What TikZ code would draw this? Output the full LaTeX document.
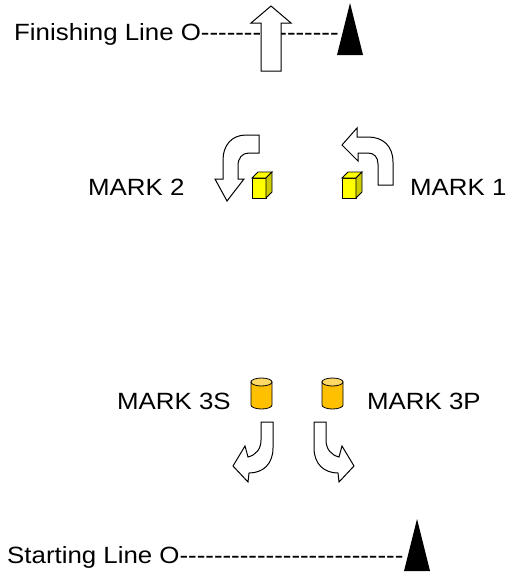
\documentclass[tikz,border=0pt]{standalone}
\usepackage{fontspec}
\setmainfont{Liberation Sans}[FakeStretch=1.1]
\newcommand{\tx}      {\fontsize{23.5}{28}\selectfont}
\newcommand{\hyph}[1] {\foreach \k in {1,...,#1}{-\kern0pt}}
\definecolor{cubeyel}{HTML}{FFFF00}
\definecolor{cylgold}{HTML}{FFC000}

\begin{document}
\begin{tikzpicture}[x=1pt,y=-1pt,line join=miter,
   every node/.style={inner sep=0pt,font=\tx}]
   \useasboundingbox (0,0) rectangle (511,573);
   % lines
   \node[anchor=base west] (finish) at (14,40)  {Finishing Line O\hyph{16}};
   \node[anchor=base west] (start)  at (7,563)  {Starting Line O\hyph{26}};
   \filldraw[draw=black,fill=white,line width=1pt] (261,71) -- (261,23) -- (251,23) -- (271,6) -- (291,23) -- (281,23) -- (281,71) -- cycle;
   \fill[black] (337,55) -- (350,3) -- (363,55) -- cycle;
   \fill[black] (404,571) -- (417,519) -- (430,571) -- cycle;
   % mark 2 and mark 1
   \filldraw[draw=black,fill=white,line width=1pt] (259,135) -- (259,153) -- (249,153) .. controls (242,153) and (238,158) .. (238,166) -- (238,179) -- (244,179) -- (227,201) -- (215,179) -- (223,179) -- (223,160) .. controls (223,145) and (232,135) .. (246,135) -- cycle;
   \filldraw[draw=black,fill=white,line width=1pt] (378,185) -- (393,185) -- (393,162) .. controls (393,146) and (383,137) .. (368,137) -- (357,137) -- (357,128) -- (342,145) -- (358,161) -- (358,153) -- (368,153) .. controls (374,153) and (378,157) .. (378,164) -- cycle;
   \filldraw[draw=black,fill=cubeyel,line width=0.8pt] (252,178) rectangle (266,198);
   \filldraw[draw=black,fill=cubeyel,line width=0.8pt] (252,178) -- (258,172) -- (272,172) -- (266,178) -- cycle;
   \filldraw[draw=black,fill=cubeyel!80!black,line width=0.8pt] (266,178) -- (272,172) -- (272,192) -- (266,198) -- cycle;
   \filldraw[draw=black,fill=cubeyel,line width=0.8pt] (342,178) rectangle (356,198);
   \filldraw[draw=black,fill=cubeyel,line width=0.8pt] (342,178) -- (348,172) -- (362,172) -- (356,178) -- cycle;
   \filldraw[draw=black,fill=cubeyel!80!black,line width=0.8pt] (356,178) -- (362,172) -- (362,192) -- (356,198) -- cycle;
   \node[anchor=base west] (mtwo) at (88,195)  {MARK 2};
   \node[anchor=base west] (mone) at (410,195) {MARK 1};
   % mark 3s and mark 3p
   \filldraw[draw=black,fill=cylgold,line width=0.8pt] (251,382) -- (251,405) arc (180:0:10.5 and 4) -- (272,382) -- cycle;
   \filldraw[draw=black,fill=cylgold!60!white,line width=0.8pt] (261.5,382) ellipse (10.5 and 4);
   \filldraw[draw=black,fill=cylgold,line width=0.8pt] (322,382) -- (322,405) arc (180:0:10.5 and 4) -- (343,382) -- cycle;
   \filldraw[draw=black,fill=cylgold!60!white,line width=0.8pt] (332.5,382) ellipse (10.5 and 4);
   \filldraw[draw=black,fill=white,line width=1pt] (261,422) -- (273,422) -- (273,448) .. controls (273,464) and (263,473) .. (249,473) -- (248,482) -- (233,466) -- (245,446) -- (248,457) .. controls (256,455) and (261,449) .. (261,440) -- cycle;
   \filldraw[draw=black,fill=white,line width=1pt] (326,422) -- (314,422) -- (314,448) .. controls (314,464) and (324,473) .. (338,473) -- (339,482) -- (354,466) -- (342,446) -- (339,457) .. controls (331,455) and (326,449) .. (326,440) -- cycle;
   \node[anchor=base west] (mthrees) at (117,409) {MARK 3S};
   \node[anchor=base west] (mthreep) at (367,409) {MARK 3P};
\end{tikzpicture}
\end{document}
